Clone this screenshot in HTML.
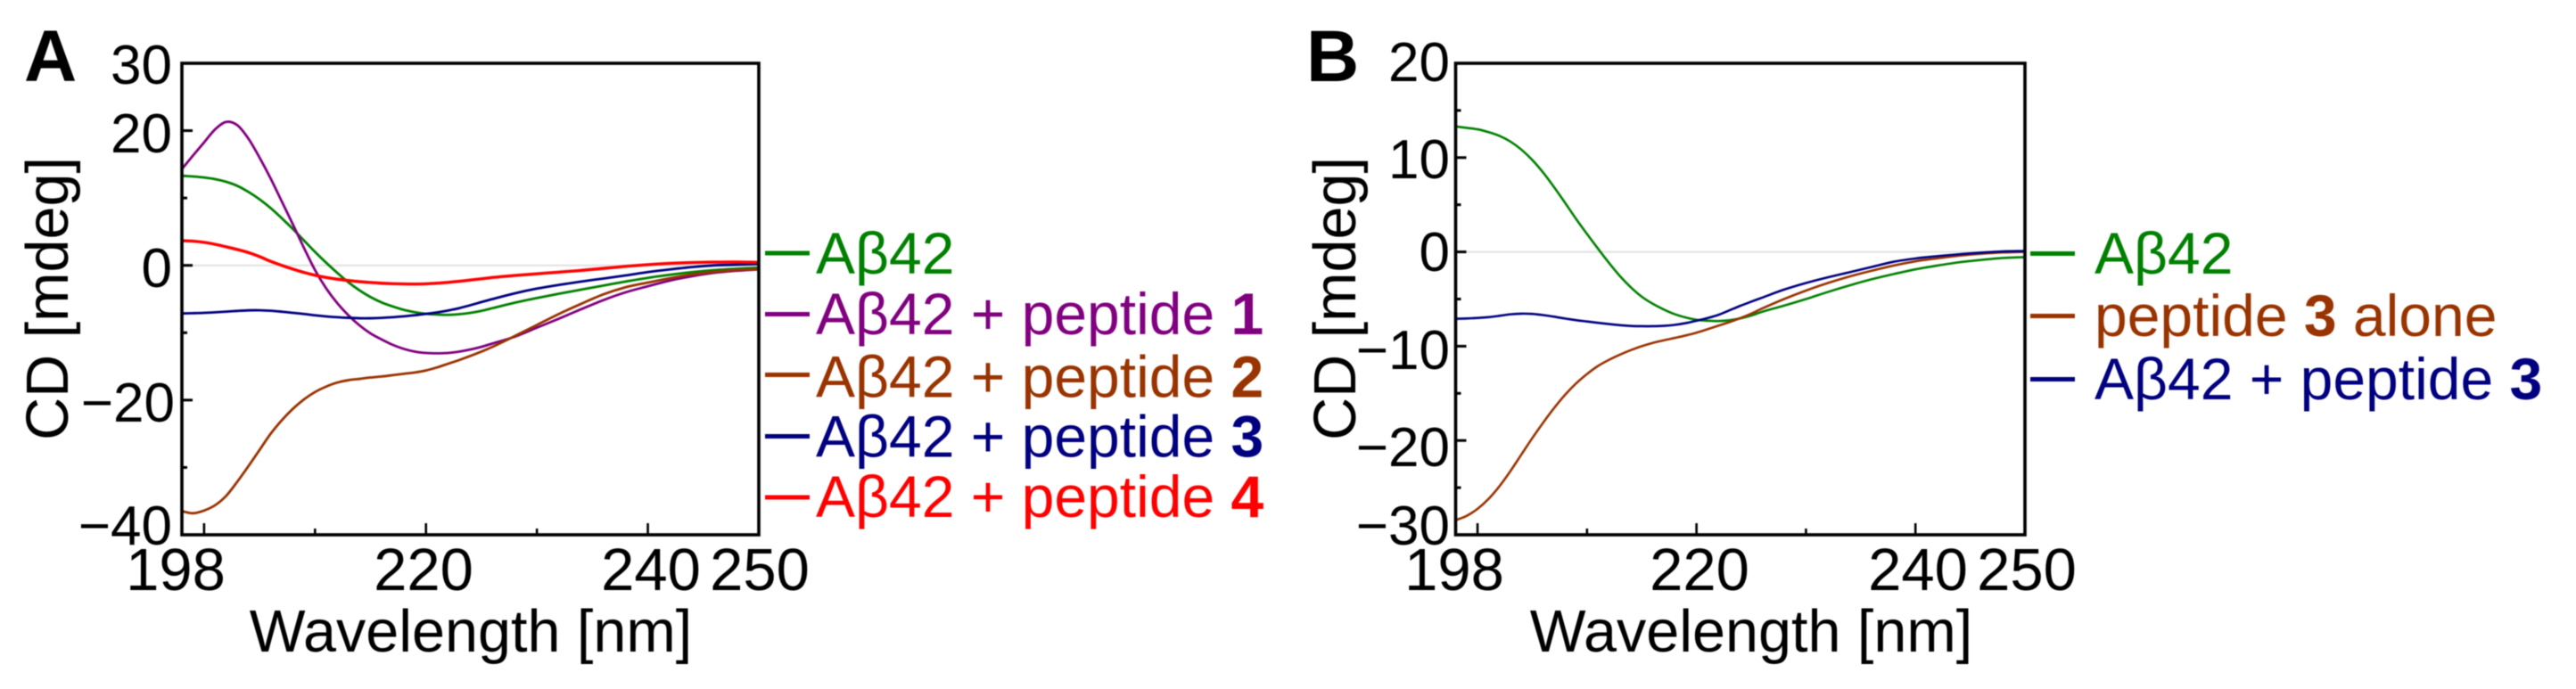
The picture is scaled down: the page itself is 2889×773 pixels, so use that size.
<!DOCTYPE html>
<html lang="en">
<head>
<meta charset="utf-8">
<title>CD spectra of Aβ42 with peptides</title>
<style>
  html, body { margin: 0; padding: 0; background: #fff; }
  svg { display: block; filter: blur(0.5px); }
  text { font-family: "Liberation Sans", "DejaVu Sans", sans-serif; }
  .tick-x { font-size: 67px; text-anchor: middle; fill: #000; }
  .tick-y { font-size: 62px; text-anchor: end; fill: #000; }
  .title { font-size: 66.5px; text-anchor: middle; fill: #000; }
  .letter { font-size: 82px; font-weight: bold; fill: #000; }
  .legend { font-size: 66px; white-space: pre; }
  .legend tspan { font-weight: bold; }
</style>
</head>
<body>
<svg id="figure" xmlns="http://www.w3.org/2000/svg" width="2889" height="773" viewBox="0 0 2889 773">
  <rect x="0" y="0" width="2889" height="773" fill="#fff"/>

  <g id="panel-a">
    <text class="letter" x="27" y="91">A</text>
    <g id="plot-a"></g>
    <g>
      <text class="tick-y" x="193" y="94">30</text>
      <text class="tick-y" x="193" y="171">20</text>
      <text class="tick-y" x="193" y="322">0</text>
      <text class="tick-y" x="196" y="473">−20</text>
      <text class="tick-y" x="193" y="611">−40</text>
    </g>
    <g>
      <text class="tick-x" x="197" y="662">198</text>
      <text class="tick-x" x="475" y="662">220</text>
      <text class="tick-x" x="730" y="662">240</text>
      <text class="tick-x" x="852" y="662">250</text>
    </g>
    <text class="title" x="528" y="731">Wavelength [nm]</text>
    <text class="title" transform="translate(76 335) rotate(-90)">CD [mdeg]</text>
    <g>
      <g fill="#008000">
        <rect x="858" y="281.5" width="50" height="5"/>
        <text class="legend" x="915" y="307">Aβ42</text>
      </g>
      <g fill="#800080">
        <rect x="858" y="350" width="50" height="5"/>
        <text class="legend" x="915" y="375">Aβ42 + peptide <tspan>1</tspan></text>
      </g>
      <g fill="#993300">
        <rect x="858" y="418" width="50" height="5"/>
        <text class="legend" x="915" y="445.5">Aβ42 + peptide <tspan>2</tspan></text>
      </g>
      <g fill="#000080">
        <rect x="858" y="487" width="50" height="5"/>
        <text class="legend" x="915" y="512.5">Aβ42 + peptide <tspan>3</tspan></text>
      </g>
      <g fill="#ff0000">
        <rect x="858" y="555.5" width="50" height="5"/>
        <text class="legend" x="915" y="580">Aβ42 + peptide <tspan>4</tspan></text>
      </g>
    </g>
  </g>

  <g id="panel-b">
    <text class="letter" x="1465" y="91">B</text>
    <g id="plot-b"></g>
    <g>
      <text class="tick-y" x="1626" y="91">20</text>
      <text class="tick-y" x="1626" y="200">10</text>
      <text class="tick-y" x="1626" y="304">0</text>
      <text class="tick-y" x="1626" y="414">−10</text>
      <text class="tick-y" x="1626" y="523">−20</text>
      <text class="tick-y" x="1626" y="611">−30</text>
    </g>
    <g>
      <text class="tick-x" x="1631" y="662">198</text>
      <text class="tick-x" x="1906" y="662">220</text>
      <text class="tick-x" x="2151" y="662">240</text>
      <text class="tick-x" x="2273" y="662">250</text>
    </g>
    <text class="title" x="1964" y="731">Wavelength [nm]</text>
    <text class="title" transform="translate(1520 335) rotate(-90)">CD [mdeg]</text>
    <g>
      <g fill="#008000">
        <rect x="2277" y="282" width="50" height="5"/>
        <text class="legend" x="2349" y="307">Aβ42</text>
      </g>
      <g fill="#993300">
        <rect x="2277" y="352" width="50" height="5"/>
        <text class="legend" x="2349" y="377">peptide <tspan>3</tspan> alone</text>
      </g>
      <g fill="#000080">
        <rect x="2277" y="423" width="50" height="5"/>
        <text class="legend" x="2349" y="448">Aβ42 + peptide <tspan>3</tspan></text>
      </g>
    </g>
  </g>
</svg>

<script>
// Shared wavelength samples (nm)
const wavelengths = [198,199,200,201,202,203,204,205,206,207,208,209,210,211,212,213,214,215,216,217,218,219,220,221,222,223,224,225,226,228,230,232,234,236,238,240,242,244,246,248,250];

// Panel A series (mdeg)
const aAbeta42 = [13.3,13.2,13.05,12.8,12.4,11.8,10.9,9.8,8.5,7.0,5.4,3.7,2.0,0.4,-1.1,-2.5,-3.7,-4.7,-5.5,-6.1,-6.6,-6.95,-7.2,-7.3,-7.35,-7.25,-7.05,-6.75,-6.35,-5.55,-4.85,-4.2,-3.6,-3.0,-2.4,-1.85,-1.4,-1.0,-0.7,-0.5,-0.35];
const aPeptide1 = [14.3,16.3,18.25,20.2,21.3,20.8,18.8,16.0,12.9,9.5,6.1,2.6,-0.7,-3.4,-5.6,-7.4,-8.9,-10.1,-11.0,-11.8,-12.4,-12.8,-13.0,-13.05,-13.0,-12.8,-12.5,-12.1,-11.6,-10.6,-9.25,-7.9,-6.5,-5.15,-4.0,-3.1,-2.25,-1.6,-1.1,-0.8,-0.6];
const aPeptide2 = [-36.5,-36.8,-36.4,-35.6,-34.2,-32.1,-29.8,-27.4,-25.0,-23.0,-21.3,-19.9,-18.8,-18.0,-17.4,-17.05,-16.85,-16.65,-16.5,-16.3,-16.1,-15.9,-15.6,-15.15,-14.6,-14.05,-13.45,-12.8,-12.1,-10.5,-8.85,-7.2,-5.7,-4.3,-3.25,-2.55,-1.9,-1.35,-0.95,-0.7,-0.55];
const aPeptide3 = [-7.14,-7.1,-7.05,-6.97,-6.87,-6.76,-6.68,-6.67,-6.74,-6.88,-7.05,-7.22,-7.42,-7.58,-7.7,-7.79,-7.85,-7.85,-7.8,-7.7,-7.56,-7.4,-7.2,-6.98,-6.7,-6.35,-5.92,-5.45,-5.0,-4.15,-3.45,-2.9,-2.4,-1.95,-1.5,-1.0,-0.6,-0.25,0.0,0.1,0.2];
const aPeptide4 = [3.66,3.6,3.42,3.12,2.75,2.35,1.9,1.3,0.6,0.0,-0.55,-1.05,-1.47,-1.8,-2.05,-2.25,-2.42,-2.55,-2.65,-2.72,-2.76,-2.77,-2.74,-2.65,-2.52,-2.36,-2.18,-2.0,-1.8,-1.5,-1.25,-1.0,-0.75,-0.45,-0.15,0.1,0.3,0.42,0.48,0.5,0.45];

// Panel B series (mdeg)
const bAbeta42 = [13.3,13.15,13.0,12.7,12.3,11.7,10.85,9.75,8.4,6.85,5.2,3.5,1.9,0.35,-1.15,-2.55,-3.75,-4.75,-5.5,-6.1,-6.6,-6.95,-7.2,-7.3,-7.33,-7.25,-7.05,-6.75,-6.35,-5.7,-5.0,-4.25,-3.55,-2.9,-2.35,-1.85,-1.45,-1.1,-0.85,-0.65,-0.55];
const bPeptide3Alone = [-28.45,-28.0,-27.25,-26.2,-24.85,-23.25,-21.5,-19.75,-18.1,-16.55,-15.15,-13.95,-12.95,-12.1,-11.45,-10.9,-10.42,-10.0,-9.65,-9.38,-9.13,-8.87,-8.57,-8.2,-7.82,-7.45,-7.02,-6.55,-6.0,-5.0,-4.1,-3.3,-2.6,-2.0,-1.45,-1.0,-0.68,-0.4,-0.2,-0.06,0.0];
const bAbeta42Peptide3 = [-7.09,-7.06,-7.0,-6.92,-6.78,-6.62,-6.55,-6.58,-6.7,-6.87,-7.07,-7.24,-7.38,-7.52,-7.65,-7.77,-7.85,-7.88,-7.88,-7.84,-7.74,-7.56,-7.3,-7.02,-6.68,-6.2,-5.72,-5.28,-4.85,-4.0,-3.3,-2.7,-2.15,-1.6,-1.05,-0.7,-0.45,-0.25,-0.08,0.05,0.1];

// Tick values
const xMajorTicks = [200,220,240];
const xMinorTicks = [210,230];
const aYMajorTicks = [20,0,-20];
const aYMinorTicks = [10,-10,-30];
const bYMajorTicks = [10,0,-10,-20];
const bYMinorTicks = [15,5,-5,-15,-25];

const SVG_NS = 'http://www.w3.org/2000/svg';

function make(parent, tag, attrs) {
  const el = document.createElementNS(SVG_NS, tag);
  for (const key in attrs) el.setAttribute(key, attrs[key]);
  parent.appendChild(el);
  return el;
}

function scale(d0, d1, r0, r1) {
  return function (v) { return r0 + (v - d0) / (d1 - d0) * (r1 - r0); };
}

function slopeAt(pts, i) {
  const a = pts[Math.max(i - 1, 0)];
  const b = pts[Math.min(i + 1, pts.length - 1)];
  return (b[1] - a[1]) / (b[0] - a[0]);
}

function smoothPath(pts) {
  let d = 'M' + pts[0][0].toFixed(2) + ' ' + pts[0][1].toFixed(2);
  for (let i = 0; i < pts.length - 1; i++) {
    const p1 = pts[i];
    const p2 = pts[i + 1];
    const dx = (p2[0] - p1[0]) / 3;
    const c1y = p1[1] + slopeAt(pts, i) * dx;
    const c2y = p2[1] - slopeAt(pts, i + 1) * dx;
    d += 'C' + (p1[0] + dx).toFixed(2) + ' ' + c1y.toFixed(2) + ' ' + (p2[0] - dx).toFixed(2) + ' ' + c2y.toFixed(2) + ' ' + p2[0].toFixed(2) + ' ' + p2[1].toFixed(2);
  }
  return d;
}

function drawPlot(root, box, yMin, yMax, yMajor, yMinor, series, lineWidth) {
  const x = scale(198, 250, box.left, box.right);
  const y = scale(yMin, yMax, box.bottom, box.top);

  const zero = make(root, 'line', { x1: box.left, x2: box.right, y1: y(0), y2: y(0), stroke: '#e4e4e4', 'stroke-width': 2.2 });
  
  

  series.forEach(function (s) {
    const pts = wavelengths.map(function (w, i) { return [x(w), y(s.values[i])]; });
    const path = make(root, 'path', { d: smoothPath(pts), fill: 'none', stroke: s.color, 'stroke-width': s.width || lineWidth, 'stroke-linejoin': 'round' });
    
    
  });

  xMajorTicks.forEach(function (t) {
    const tick = make(root, 'line', { x1: x(t), x2: x(t), y1: box.bottom, y2: box.bottom - 13, stroke: '#000', 'stroke-width': 2.6 });
    
    
  });
  xMinorTicks.forEach(function (t) {
    const tick = make(root, 'line', { x1: x(t), x2: x(t), y1: box.bottom, y2: box.bottom - 7, stroke: '#000', 'stroke-width': 2.6 });
    
    
  });
  yMajor.forEach(function (t) {
    const tick = make(root, 'line', { x1: box.left, x2: box.left + 12, y1: y(t), y2: y(t), stroke: '#000', 'stroke-width': 3 });
    
    
  });
  yMinor.forEach(function (t) {
    const tick = make(root, 'line', { x1: box.left, x2: box.left + 6, y1: y(t), y2: y(t), stroke: '#000', 'stroke-width': 3 });
    
    
  });

  const frame = make(root, 'rect', { x: box.left, y: box.top, width: box.right - box.left, height: box.bottom - box.top, fill: 'none', stroke: '#000', 'stroke-width': 3.6 });
  
  
}

drawPlot(
  document.getElementById('plot-a'),
  { left: 204, right: 851, top: 71, bottom: 600 },
  -40, 30, aYMajorTicks, aYMinorTicks,
  [
    { name: 'series-abeta42', color: '#008000', values: aAbeta42 },
    { name: 'series-abeta42-peptide-1', color: '#800080', values: aPeptide1 },
    { name: 'series-abeta42-peptide-2', color: '#993300', values: aPeptide2 },
    { name: 'series-abeta42-peptide-3', color: '#000080', values: aPeptide3 },
    { name: 'series-abeta42-peptide-4', color: '#ff0000', values: aPeptide4, width: 3.4 }
  ],
  2.8
);

drawPlot(
  document.getElementById('plot-b'),
  { left: 1632.5, right: 2271, top: 71, bottom: 600 },
  -30, 20, bYMajorTicks, bYMinorTicks,
  [
    { name: 'series-abeta42', color: '#008000', values: bAbeta42 },
    { name: 'series-peptide-3-alone', color: '#993300', values: bPeptide3Alone },
    { name: 'series-abeta42-peptide-3', color: '#000080', values: bAbeta42Peptide3 }
  ],
  2.6
);
</script>
</body>
</html>
